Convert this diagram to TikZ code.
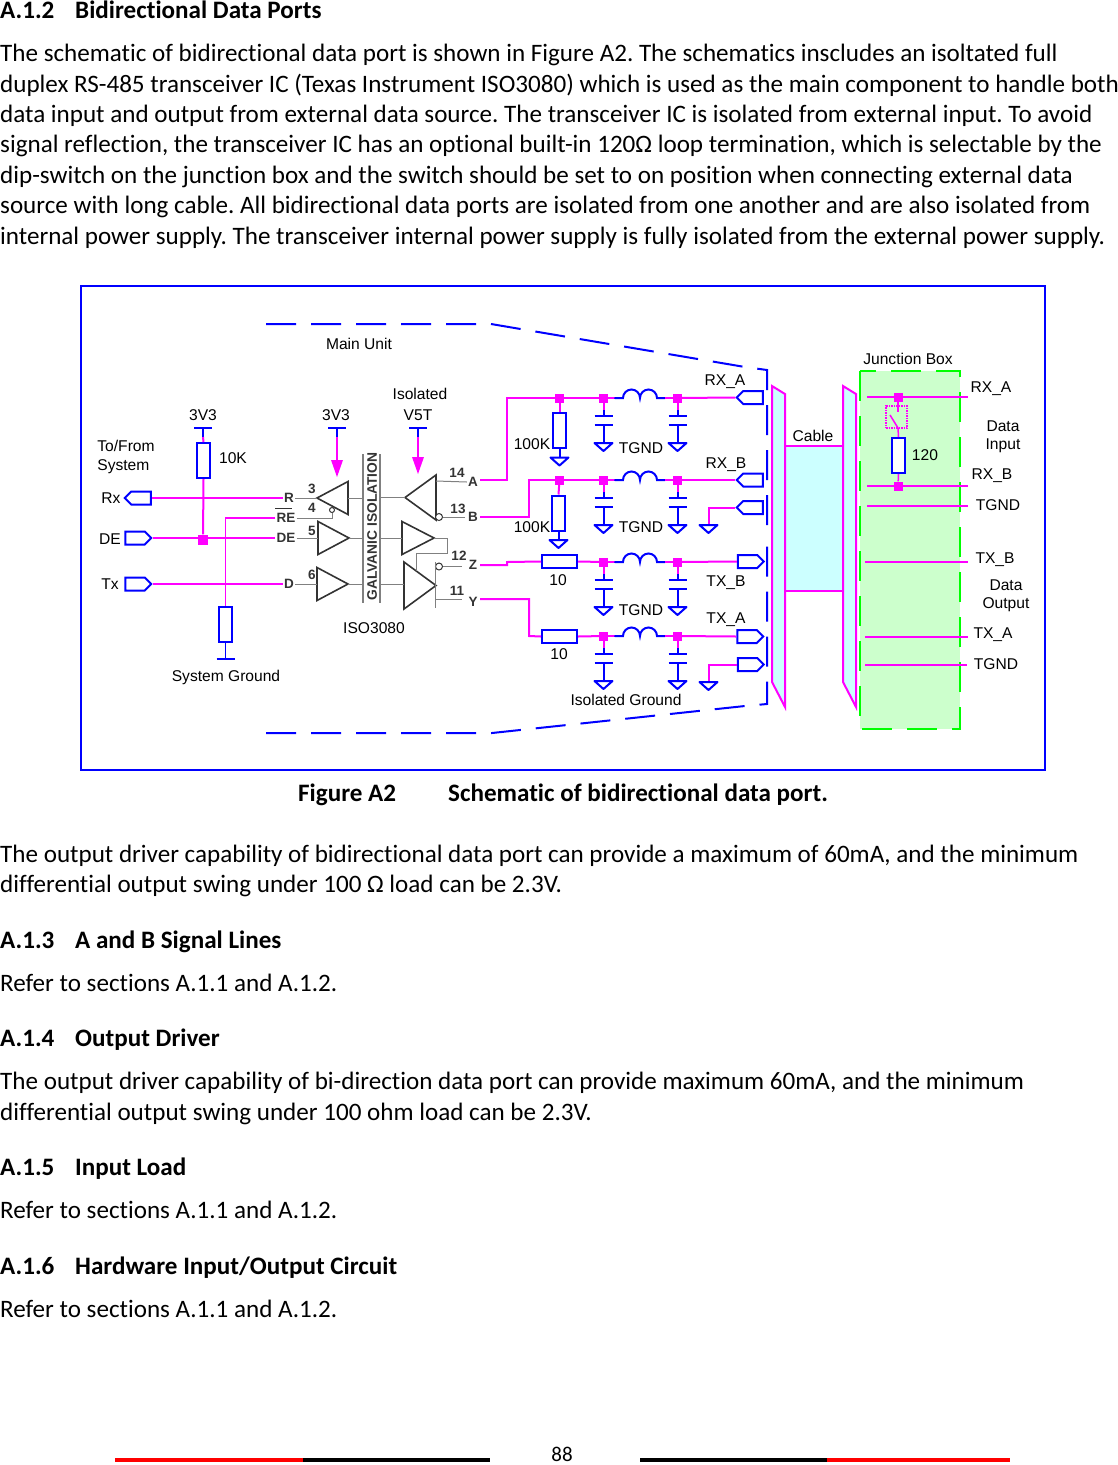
\documentclass[tikz,border=0pt]{standalone}
\usepackage{fontspec}
\setmainfont{Carlito}[Ligatures=NoCommon]
\newfontfamily\schemfont{Liberation Sans}
\usetikzlibrary{shapes.geometric,shapes.symbols}
\definecolor{wiremag}{HTML}{FF00FF}
\definecolor{portblue}{HTML}{0000FF}
\definecolor{gatedark}{HTML}{333333}
\definecolor{cablefill}{HTML}{CCFFFF}
\definecolor{boxfill}{HTML}{CCFFCC}
\definecolor{boxgreen}{HTML}{00FF00}
\tikzset{
  bodytext/.style={anchor=base west, inner sep=0pt, font=\fontsize{25.1}{30}\selectfont\frenchspacing},
  headtext/.style={bodytext, font=\fontsize{25.1}{30}\selectfont\bfseries\frenchspacing},
  schem/.style={inner sep=0pt, font=\schemfont\fontsize{15.6}{19}\selectfont},
  pinlabel/.style={inner sep=1pt, text=gatedark, font=\schemfont\bfseries\fontsize{13.5}{14}\selectfont},
  wire/.style={draw=wiremag, line width=2pt},
  thinwire/.style={draw=wiremag, line width=1.3pt},
  blueline/.style={draw=portblue, line width=2pt},
  grayline/.style={draw=gray, line width=1pt},
  mainedge/.style={blueline, dash pattern=on 30pt off 15pt},
  junc/.style={rectangle, fill=wiremag, inner sep=0pt, minimum size=9pt},
  resv/.style={rectangle, draw=portblue, line width=2pt, fill=white, inner sep=0pt, minimum width=13pt, minimum height=35pt},
  resh/.style={resv, minimum width=35pt, minimum height=13pt},
  portbase/.style={signal, draw=portblue, line width=2pt, fill=white, inner sep=0pt, minimum width=26pt, minimum height=13pt},
  portin/.style={portbase, signal to=west, xshift=3pt},
  portout/.style={portbase, signal to=east, xshift=-3pt},
  gate/.style={isosceles triangle, isosceles triangle stretches, draw=gatedark, line width=1.6pt, inner sep=0pt, outer sep=0pt, anchor=apex, minimum height=31pt, minimum width=33pt},
  gateleft/.style={gate, shape border rotate=180},
  bubble/.style={circle, draw=gatedark, line width=1pt, fill=white, inner sep=0pt, minimum size=7pt},
  pics/gnd/.style={code={\draw[blueline, line join=round] (-9,0) -- (9,0) -- (0,8) -- cycle;}},
  pics/supply/.style={code={\draw[blueline] (-9,0) -- (9,0);}},
}
\begin{document}
\begin{tikzpicture}[x=1pt,y=-1pt]
  \useasboundingbox (0,0) rectangle (1118,1465);

  \foreach \n/\y/\num/\t in {h2/18/A.1.2/Bidirectional Data Ports, h3/948/A.1.3/A and B Signal Lines,
    h4/1046/A.1.4/Output Driver, h5/1175/A.1.5/Input Load, h6/1274/A.1.6/{Hardware Input/Output Circuit}}
  {
    \node[headtext] (\n num) at (0,\y) {\num};
    \node[headtext] (\n title) at (75,\y) {\t};
  }
  \foreach \n/\y/\t in {{a/61/The schematic of bidirectional data port is shown in Figure A2. The schematics inscludes an isoltated full},
    {b/92/duplex RS-485 transceiver IC (Texas Instrument ISO3080) which is used as the main component to handle both},
    {c/122/data input and output from external data source. The transceiver IC is isolated from external input. To avoid},
    {d/152/signal reflection, the transceiver IC has an optional built-in 120Ω loop termination, which is selectable by the},
    {e/183/dip-switch on the junction box and the switch should be set to on position when connecting external data},
    {f/213/source with long cable. All bidirectional data ports are isolated from one another and are also isolated from},
    {g/244/internal power supply. The transceiver internal power supply is fully isolated from the external power supply.},
    {i/862/The output driver capability of bidirectional data port can provide a maximum of 60mA, and the minimum},
    {j/892/differential output swing under 100 Ω load can be 2.3V.},
    {k/991/Refer to sections A.1.1 and A.1.2.},
    {l/1089/The output driver capability of bi-direction data port can provide maximum 60mA, and the minimum},
    {m/1120/differential output swing under 100 ohm load can be 2.3V.},
    {n/1218/Refer to sections A.1.1 and A.1.2.},
    {o/1317/Refer to sections A.1.1 and A.1.2.}}
  {
    \node[bodytext] (line\n) at (0,\y) {\t};
  }
  \node[headtext] (figlabel) at (298,801) {Figure A2};
  \node[headtext] (figtitle) at (448,801) {Schematic of bidirectional data port.};

  \draw[portblue, line width=2pt] (81,286) rectangle (1045,770);
  \draw[mainedge] (266,324) -- (491,324) -- (745,367) -- (767,370) -- (767,537);
  \draw[mainedge] (266,733) -- (492,733) -- (745,706) -- (767,704) -- (767,537);

  \node[schem] (mainunit) at (359,344) {Main Unit};
  \node[schem, align=left] (tofrom) at (126,457) {To/From\\System};
  \node[schem, align=center] (isolated) at (420,394) {Isolated};
  \node[schem] (iso3080) at (374,628) {ISO3080};

  \node[schem] (rxlabel) at (111,498) {Rx};
  \node[schem] (delabel) at (110,539) {DE};
  \node[schem] (txlabel) at (110,584) {Tx};
  \node[portin] (portrx) at (138,498) {};
  \node[portout] (portde) at (138,538) {};
  \node[portout] (porttx) at (138,584) {};

  \node[pinlabel] (pinr) at (289,498) {R};
  \node[pinlabel] (pinre) at (286,518) {RE};
  \node[pinlabel] (pinde) at (286,538) {DE};
  \node[pinlabel] (pind) at (289,584) {D};
  \draw[gatedark, line width=1pt] (275,508) -- (292,508);
  \foreach \x/\y/\t in {312/489/3, 312/508/4, 312/531/5, 312/575/6, 457/473/14, 458/509/13, 459/556/12, 457/591/11, 473/482/A, 473/517/B, 473/565/Z, 473/602/Y}
  {
    \node[pinlabel] (num\t) at (\x,\y) {\t};
  }

  \node[gateleft] (gatea) at (317,498) {};
  \node[gate] (gateb) at (349,538) {};
  \node[gate] (gatec) at (348,584) {};
  \node[gateleft, minimum width=45pt] (gated) at (405,497.5) {};
  \node[gate, minimum height=32pt] (gatee) at (434,538) {};
  \node[gate, minimum height=32pt, minimum width=47pt] (gatef) at (436,585.5) {};

  \coordinate (isol) at (363,526);
  \coordinate (isor) at (380,526);
  \draw[gray, line width=1.5pt] (363,454) -- (363,603) (380,454) -- (380,603);
  \node[pinlabel, rotate=90, font=\schemfont\bfseries\fontsize{13.8}{15}\selectfont] (isotext) at (372,526.5) {GALVANIC ISOLATION};

  \node[bubble, minimum size=5pt] (bubre) at (332,510) {};
  \node[bubble] (bubb) at (439,517) {};
  \node[bubble] (bubz) at (439,566.5) {};

  \draw[grayline] (pinr) -- (gatea.apex);
  \draw[grayline] (pinde) -- (gateb.lower side);
  \draw[grayline] (pind) -- (gatec.lower side);
  \draw[grayline] (pinre) -| (bubre);
  \draw[grayline] (gatea.lower side) -- (isol |- gatea.lower side);
  \draw[grayline] (gateb.apex) -- (isol |- gateb.apex);
  \draw[grayline] (gatec.apex) -- (isol |- gatec.apex);
  \draw[grayline] (isor |- gated.apex) -- (gated.apex);
  \draw[grayline] (isor |- gatee.lower side) -- (gatee.lower side);
  \draw[grayline] (isor |- gatec.apex) -- (gatef.lower side |- gatec.apex);
  \draw[grayline] (436,481) -- (numA.west);
  \draw[grayline] (bubb) -- (465,517);
  \draw[grayline] (bubz) -- (462,566.5);
  \draw[grayline] (436,599) -- (462,599);
  \draw[grayline] (435,562) -- (435,608);
  \draw[grayline] (gatee.apex) -- (447,538) -- (447,553) -- (416,553) -- (416,571);

  \node[schem] (vcca) at (203,415) {3V3};
  \node[schem] (vccb) at (336,415) {3V3};
  \node[schem] (vccc) at (418,415) {V5T};
  \pic at (203,428) {supply};
  \pic at (337,428) {supply};
  \pic at (418,428) {supply};
  \coordinate (vcca) at (203,428);
  \node[resv] (rpull) at (203.5,460.5) {};
  \node[schem] (rpulllabel) at (233,458) {10K};
  \node[junc, minimum size=10pt] (jde) at (203,539.5) {};
  \draw[blueline] (vcca) -- (203,437);
  \draw[wire] (203,437) -- (rpull.north);
  \draw[wire] (rpull.south) -- (jde);
  \draw[wire] (portrx.east) -- (pinr.west);
  \draw[wire] (portde.east) -- (pinde.west);
  \draw[wire] (porttx.east) -- (pind.west);
  \node[resv] (rgnd) at (225.5,624.5) {};
  \draw[thinwire] (pinre.west) -| (rgnd.north);
  \draw[blueline, line width=1.5pt] (rgnd.south) -- (225.5,659);
  \pic at (225.5,659) {supply};
  \node[schem] (sysgnd) at (226,677) {System Ground};
  \draw[blueline] (337,428) -- (337,437);
  \draw[wire, line width=2.4pt] (337,437) -- (337,462);
  \fill[wiremag] (331,460) -- (343,460) -- (337,477) -- cycle;
  \draw[blueline] (418,428) -- (418,437);
  \draw[wire, line width=2.4pt] (418,437) -- (418,459);
  \fill[wiremag] (412,457) -- (424,457) -- (418,474) -- cycle;

  \foreach \r/\y in {a/398, b/480, c/562, d/636}
  {
    \foreach \n/\x in {l/603.5, r/677.5}
    {
      \node[junc] (j\r\n) at (\x,\y) {};
      \draw[wire] (j\r\n) -- (\x,\y+12);
      \draw[blueline] (\x,\y+12) -- (\x,\y+18) (\x-9,\y+18) -- (\x+9,\y+18);
      \draw[blueline] (\x-9,\y+27) -- (\x+9,\y+27) (\x,\y+27) -- (\x,\y+45);
      \pic at (\x,\y+45) {gnd};
    }
    \draw[wire] (j\r l) -- (615,\y);
    \draw[blueline, line cap=round] (615,\y) -- (623,\y) arc (180:360:8.5) arc (180:360:8.5) -- (665,\y);
    \draw[wire] (665,\y) -- (j\r r);
  }

  \node[junc] (juppera) at (559.5,398) {};
  \node[junc] (jupperb) at (559.5,480) {};
  \node[resv] (rterma) at (559.5,430.5) {};
  \node[resv] (rtermb) at (558.5,513) {};
  \node[resh] (rtxb) at (559.5,561.5) {};
  \node[resh] (rtxa) at (559.5,636.5) {};
  \draw[wire] (juppera) -- (rterma.north);
  \draw[wire] (jupperb) -- (rtermb.north);
  \draw[blueline] (rterma.south) -- (559.5,457);
  \pic at (559.5,457.5) {gnd};
  \draw[blueline] (rtermb.south) -- (558.5,540);
  \pic at (558.5,540) {gnd};
  \coordinate (wirea) at (480,480);
  \coordinate (wireb) at (480,517);
  \coordinate (wirez) at (480,565);
  \coordinate (wirey) at (480,599);
  \draw[wire] (wirea) -- (507,480) -- (507,398) -- (juppera);
  \draw[wire] (juppera) -- (jal);
  \draw[wire] (wireb) -- (529,517) -- (529,480) -- (jupperb);
  \draw[wire] (jupperb) -- (jbl);
  \draw[wire] (wirez) -- (507,565) -- (507,562) -- (rtxb.west);
  \draw[wire] (rtxb.east) -- (jcl);
  \draw[wire] (wirey) -- (529,599) -- (529,636) -- (rtxa.west);
  \draw[wire] (rtxa.east) -- (jdl);

  \node[portin] (portrxa) at (750,397.5) {};
  \node[portin] (portrxb) at (750,480) {};
  \node[portin] (porttgnda) at (750,507.5) {};
  \node[portout] (porttxb) at (750.5,561.5) {};
  \node[portout] (porttxa) at (750,636.5) {};
  \node[portout] (porttgndb) at (750.5,664.5) {};
  \draw[wire] (jar) -- (portrxa.west);
  \draw[wire] (jbr) -- (portrxb.west);
  \draw[wire] (jcr) -- (porttxb.west);
  \draw[wire] (jdr) -- (porttxa.west);
  \draw[wire] (porttgnda.west) -| (708.5,525);
  \draw[wire] (porttgndb.west) -| (708.5,682);
  \pic at (708.5,525) {gnd};
  \pic at (708.5,682) {gnd};

  \foreach \n/\x/\y/\t in {a/725/382/RX\_A, b/641/448/TGND, c/726/465/RX\_B, d/641/527/TGND, e/532/444/100K, f/532/527/100K,
    g/558/580/10, h/726/583/TX\_B, i/726/620/TX\_A, j/641/610/TGND, k/559/654/10, l/626/700/Isolated Ground}
  {
    \node[schem] (midlabel\n) at (\x,\y) {\t};
  }

  \fill[cablefill] (785,446) rectangle (843,591);
  \draw[wire] (785,446) -- (843,446) (785,591) -- (843,591);
  \draw[wire, fill=cablefill] (772,386) -- (785,394) -- (785,707) -- (772,682) -- cycle;
  \draw[wire, fill=cablefill] (843,386) -- (856,394) -- (856,707) -- (843,682) -- cycle;
  \node[schem] (cablelabel) at (813,436) {Cable};

  \draw[boxgreen, line width=2pt, fill=boxfill, dash pattern=on 30pt off 15pt] (860,371) rectangle (960,729);
  \node[schem] (jboxlabel) at (908,359) {Junction Box};
  \node[junc] (jterma) at (898,397) {};
  \node[junc] (jtermb) at (898,486) {};
  \coordinate (swa) at (898,412);
  \coordinate (swb) at (898,428);
  \node[rectangle, draw=wiremag, densely dotted, line width=1.5pt, inner sep=0pt, minimum width=21pt, minimum height=22pt] (swbox) at (896.5,417) {};
  \node[resv] (rtermbox) at (898.5,455.5) {};
  \node[schem] (rtermboxlabel) at (925,455) {120};
  \draw[wire] (867,397) -- (968,397);
  \draw[wire] (867,486) -- (968,486);
  \draw[wire] (867,506) -- (968,506);
  \draw[thinwire] (865,562) -- (968,562);
  \draw[wire] (865,637) -- (968,637);
  \draw[wire] (865,665) -- (967,665);
  \draw[wire, line width=1.5pt] (jterma) -- (swa);
  \draw[wire, line width=1.5pt] (890,415) -- (swb) -- (rtermbox.north);
  \draw[wire, line width=1.5pt] (rtermbox.south) -- (jtermb);

  \foreach \n/\x/\y/\t in {a/991/389/RX\_A, b/1003/426/Data, c/1003/446/Input, d/992/476/RX\_B, e/998/505/TGND, f/995/560/TX\_B,
    g/1006/585/Data, h/1006/605/Output, i/993/635/TX\_A, j/996/664/TGND}
  {
    \node[schem] (boxlabel\n) at (\x,\y) {\t};
  }

  \node[inner sep=0pt, font=\fontsize{21}{24}\selectfont] (pagenum) at (562,1454) {88};
  \fill[red] (115,1458) rectangle (303,1462);
  \fill[black] (303,1458) rectangle (490,1462);
  \fill[black] (640,1458) rectangle (827,1462);
  \fill[red] (827,1458) rectangle (1010,1462);
\end{tikzpicture}
\end{document}
